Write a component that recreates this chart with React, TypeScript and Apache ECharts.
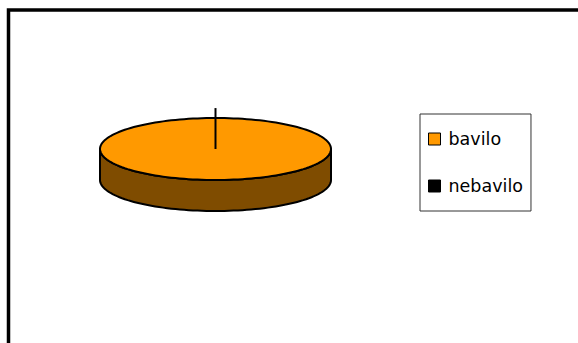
import React, { useEffect, useRef } from "react";
import * as echarts from "echarts";

const categories = ["bavilo", "nebavilo"];
const values = [100, 0];
const topColors = ["#FF9900", "#000000"];
const sideColors = ["#7F4C00", "#000000"];

const CX = 215.5;
const CY = 149;
const RX = 115.5;
const RY = 31;
const DEPTH = 31;
const ZERO_EXT = 1.32;

function arc(t0: number, t1: number, dy: number) {
  const pts: number[][] = [];
  const n = Math.max(2, Math.ceil(((t1 - t0) / (2 * Math.PI)) * 160));
  for (let k = 0; k <= n; k++) {
    const t = t0 + ((t1 - t0) * k) / n;
    pts.push([CX + RX * Math.cos(t), CY + RY * Math.sin(t) + dy]);
  }
  return pts;
}

function makeRenderItem(i: number) {
  return (params: any, api: any) => {
    const v = api.value(0);
    const total = values.reduce((a, b) => a + b, 0);
    const start = values.slice(0, i).reduce((a, b) => a + b, 0);
    const t0 = -Math.PI / 2 + (2 * Math.PI * start) / total;
    const t1 = t0 + (2 * Math.PI * v) / total;
    const children: any[] = [];
    if (v > 0) {
      for (let k = -1; k <= 1; k++) {
        const a = Math.max(t0, 2 * Math.PI * k);
        const b = Math.min(t1, Math.PI + 2 * Math.PI * k);
        if (b > a) {
          const pts = arc(a, b, 0).concat(arc(a, b, DEPTH).reverse());
          children.push({
            type: "polygon",
            z2: 1,
            shape: { points: pts },
            style: { fill: sideColors[i], stroke: "#000", lineWidth: 2, lineJoin: "round" },
          });
        }
      }
      const full = v >= total;
      const topPts = full ? arc(t0, t1, 0) : [[CX, CY]].concat(arc(t0, t1, 0));
      children.push({
        type: "polygon",
        z2: 5,
        shape: { points: topPts },
        style: { fill: topColors[i], stroke: "#000", lineWidth: 2, lineJoin: "round" },
      });
    } else {
      const ex = CX + RX * Math.cos(t0) * ZERO_EXT;
      const ey = CY + RY * Math.sin(t0) * ZERO_EXT;
      children.push({
        type: "line",
        z2: 8,
        shape: { x1: CX, y1: CY, x2: ex, y2: ey },
        style: { stroke: "#000", lineWidth: 2 },
      });
    }
    return { type: "group", children };
  };
}

export default function App() {
  const ref = useRef<HTMLDivElement>(null);
  useEffect(() => {
    if (!ref.current) return;
    const chart = echarts.init(ref.current, undefined, { renderer: "svg" });
    chart.setOption({
      animation: false,
      backgroundColor: "#ffffff",
      graphic: [
        {
          type: "rect",
          shape: { x: 8.5, y: 10, width: 800, height: 600 },
          style: { fill: "none", stroke: "#000", lineWidth: 3.5 },
          z: 100,
        },
      ],
      legend: {
        orient: "vertical",
        left: 420,
        top: 114,
        padding: [15, 8, 15, 8],
        itemWidth: 12,
        itemHeight: 12,
        itemGap: 27,
        icon: "rect",
        borderColor: "#333",
        borderWidth: 1,
        itemStyle: { borderColor: "#000", borderWidth: 1 },
        textStyle: {
          fontFamily: "DejaVu Sans, sans-serif",
          fontSize: 17.5,
          lineHeight: 20,
          color: "#000",
          padding: [0, 0, 0, 3],
        },
        data: categories,
      },
      series: categories.map((name, i) => ({
        type: "custom",
        name,
        coordinateSystem: "none",
        itemStyle: { color: topColors[i] },
        data: [[values[i]]],
        renderItem: makeRenderItem(i),
      })),
    });
    return () => chart.dispose();
  }, []);
  return (
    <div
      ref={ref}
      style={{ position: "fixed", left: 0, top: 0, width: 578, height: 343, background: "#fff" }}
    />
  );
}
